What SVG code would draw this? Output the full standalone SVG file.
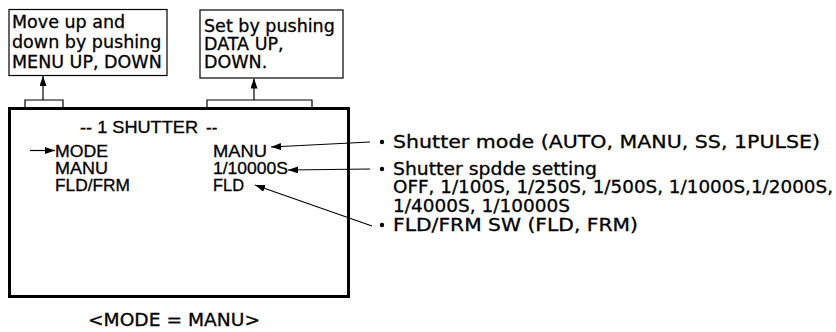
<svg xmlns="http://www.w3.org/2000/svg" width="836" height="332" viewBox="0 0 836 332">
<defs>
<marker id="ah" markerUnits="userSpaceOnUse" markerWidth="10" markerHeight="7" refX="10" refY="3.5" orient="auto">
<path d="M0,0 L10,3.5 L0,7 z" fill="#000"/>
</marker>
<style>
.box{fill:#fff;stroke:#000;stroke-width:1.2}
.main{fill:#fff;stroke:#000;stroke-width:3}
.tab{fill:none;stroke:#000;stroke-width:1.2}
.ln{fill:none;stroke:#000;stroke-width:1.2}
text{fill:#000;stroke:#000;stroke-width:0.3}
.t1{font-family:"DejaVu Sans",sans-serif;font-size:17.5px}
.t2{font-family:"Liberation Sans",Arial,sans-serif;font-size:17px}
.t3{font-family:"DejaVu Sans",sans-serif;font-size:18px}
</style>
</defs>
<rect width="836" height="332" fill="#fff"/>
<g id="note-menu">
<rect class="box" x="9" y="9.5" width="158" height="66"/>
<text class="t1" x="12" y="28">Move up and</text>
<text class="t1" x="12" y="48">down by pushing</text>
<text class="t1" x="12" y="68">MENU UP, DOWN</text>
</g>
<g id="note-data">
<rect class="box" x="200" y="10" width="143" height="68"/>
<text class="t1" x="204" y="32">Set by pushing</text>
<text class="t1" x="204" y="50">DATA UP,</text>
<text class="t1" x="204" y="68">DOWN.</text>
</g>
<g id="screen">
<path class="tab" d="M25,108 V100 H63 V108"/>
<path class="tab" d="M207,108 V100 H312 V108"/>
<rect class="main" x="9.5" y="108.5" width="339" height="188"/>
<text class="t2" x="80" y="133" textLength="118" lengthAdjust="spacingAndGlyphs">-- 1 SHUTTER</text>
<text class="t2" x="206" y="133">--</text>
<text class="t2" x="55" y="157" textLength="53" lengthAdjust="spacingAndGlyphs">MODE</text>
<text class="t2" x="55" y="174" textLength="53" lengthAdjust="spacingAndGlyphs">MANU</text>
<text class="t2" x="55" y="191" textLength="75" lengthAdjust="spacingAndGlyphs">FLD/FRM</text>
<text class="t2" x="213" y="157" textLength="54" lengthAdjust="spacingAndGlyphs">MANU</text>
<text class="t2" x="213" y="174" textLength="75" lengthAdjust="spacingAndGlyphs">1/10000S</text>
<text class="t2" x="213" y="191" textLength="31" lengthAdjust="spacingAndGlyphs">FLD</text>
</g>
<g id="desc">
<circle cx="382" cy="142" r="2.2"/>
<circle cx="382" cy="169" r="2.2"/>
<circle cx="382" cy="225" r="2.2"/>
<text class="t3" x="393" y="148" textLength="427" lengthAdjust="spacingAndGlyphs">Shutter mode (AUTO, MANU, SS, 1PULSE)</text>
<text class="t3" x="393" y="175" textLength="204" lengthAdjust="spacingAndGlyphs">Shutter spdde setting</text>
<text class="t3" x="393" y="193" textLength="440" lengthAdjust="spacingAndGlyphs">OFF, 1/100S, 1/250S, 1/500S, 1/1000S,1/2000S,</text>
<text class="t3" x="393" y="212" textLength="177" lengthAdjust="spacingAndGlyphs">1/4000S, 1/10000S</text>
<text class="t3" x="393" y="231" textLength="245" lengthAdjust="spacingAndGlyphs">FLD/FRM SW (FLD, FRM)</text>
</g>
<g id="caption">
<text class="t3" x="88" y="326" textLength="172" lengthAdjust="spacingAndGlyphs">&lt;MODE = MANU&gt;</text>
</g>
<g id="connectors">
<line class="ln" x1="43" y1="100" x2="43" y2="76" marker-end="url(#ah)"/>
<line class="ln" x1="254" y1="100" x2="254" y2="78.5" marker-end="url(#ah)"/>
<line class="ln" x1="30" y1="150.5" x2="55" y2="150.5" marker-end="url(#ah)"/>
<line class="ln" x1="370" y1="142" x2="271" y2="147" marker-end="url(#ah)"/>
<line class="ln" x1="370" y1="169" x2="288" y2="170" marker-end="url(#ah)"/>
<line class="ln" x1="372" y1="226" x2="255" y2="185" marker-end="url(#ah)"/>
</g>
</svg>
